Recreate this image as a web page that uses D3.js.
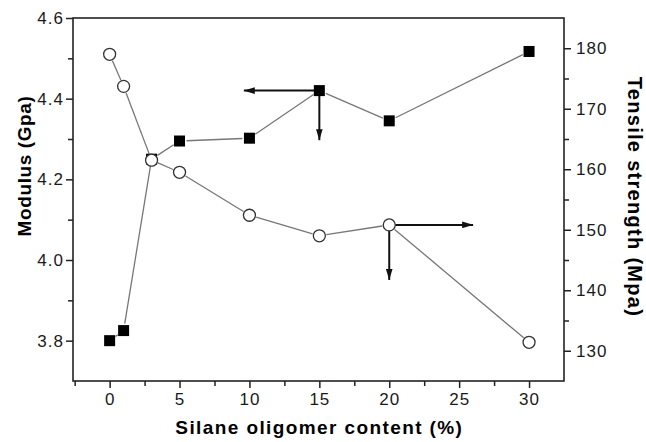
<!DOCTYPE html>
<html>
<head>
<meta charset="utf-8">
<script src="https://cdn.jsdelivr.net/npm/d3@7"></script>
<style>
  body { margin: 0; background: #fff; }
  svg text { font-family: "Liberation Sans", Arial, sans-serif; }
</style>
</head>
<body>
<div id="plot"></div>
<script>
const WIDTH = 646;
const HEIGHT = 442;

// data
const content = [0, 1, 3, 5, 10, 15, 20, 30];
const modulus = [3.80, 3.825, 4.25, 4.295, 4.302, 4.42, 4.345, 4.517];
const tensile = [179.0, 173.7, 161.5, 159.5, 152.4, 149.0, 150.8, 131.4];

const xTicks = [0, 5, 10, 15, 20, 25, 30];
const xMinor = [-2.5, 2.5, 7.5, 12.5, 17.5, 22.5, 27.5];
const leftTicks = [3.8, 4.0, 4.2, 4.4, 4.6];
const leftMinor = [3.9, 4.1, 4.3, 4.5];
const rightTicks = [130, 140, 150, 160, 170, 180];
const rightMinor = [135, 145, 155, 165, 175];

// arrows: [x0, y0, x1, y1] in data units of the series axis
const modulusArrows = [[15, 4.42, 9.6, 4.42], [15, 4.42, 15, 4.297]];
const tensileArrows = [[20, 150.8, 26.0, 150.8], [20, 150.8, 20, 141.7]];

const margin = {left: 73, right: 82, top: 18, bottom: 61};
const plotW = WIDTH - margin.left - margin.right;
const plotH = HEIGHT - margin.top - margin.bottom;

var svg = d3.select('#plot')
    .append('svg')
    .attr('width', WIDTH)
    .attr('height', HEIGHT);

svg.append('defs').append('marker')
    .attr('id', 'head')
    .attr('viewBox', '0 0 10 6')
    .attr('refX', 10)
    .attr('refY', 3)
    .attr('markerUnits', 'userSpaceOnUse')
    .attr('markerWidth', 11)
    .attr('markerHeight', 7)
    .attr('orient', 'auto')
    .append('path')
    .attr('d', 'M0,0 L10,3 L0,6 Z')
    .attr('fill', '#111');

var g = svg.append('g')
    .attr('transform', `translate(${margin.left},${margin.top})`);

var x = d3.scaleLinear().domain([-2.62, 32.5]).range([0, plotW]);
var yL = d3.scaleLinear().domain([3.7, 4.6]).range([plotH, 0]);
var yR = d3.scaleLinear().domain([125, 185]).range([plotH, 0]);

const AXIS_COLOR = '#222';

function styleAxis(sel) {
    sel.select('.domain').remove();
    sel.selectAll('line').attr('stroke', AXIS_COLOR).attr('stroke-width', 1.5);
    sel.selectAll('text')
        .attr('fill', '#1a1a1a')
        .style('font-size', '17px')
        .style('letter-spacing', '1px');
}

// minor ticks first
g.append('g')
    .attr('transform', `translate(0,${plotH})`)
    .call(d3.axisBottom(x).tickValues(xMinor).tickSize(5).tickFormat(''))
    .call(styleAxis);
g.append('g')
    .call(d3.axisLeft(yL).tickValues(leftMinor).tickSize(5).tickFormat(''))
    .call(styleAxis);
g.append('g')
    .attr('transform', `translate(${plotW},0)`)
    .call(d3.axisRight(yR).tickValues(rightMinor).tickSize(5).tickFormat(''))
    .call(styleAxis);

// major ticks
g.append('g')
    .attr('transform', `translate(0,${plotH})`)
    .call(d3.axisBottom(x).tickValues(xTicks).tickSize(7).tickPadding(5))
    .call(styleAxis);
g.append('g')
    .call(d3.axisLeft(yL).tickValues(leftTicks).tickSize(7).tickPadding(2)
        .tickFormat(d3.format('.1f')))
    .call(styleAxis);
g.append('g')
    .attr('transform', `translate(${plotW},0)`)
    .call(d3.axisRight(yR).tickValues(rightTicks).tickSize(7).tickPadding(5))
    .call(styleAxis);

// frame
g.append('rect')
    .attr('x', 0).attr('y', 0)
    .attr('width', plotW).attr('height', plotH)
    .attr('fill', 'none')
    .attr('stroke', AXIS_COLOR)
    .attr('stroke-width', 1.6);

// axis titles
svg.append('text')
    .attr('transform', 'translate(31,166) rotate(-90)')
    .attr('text-anchor', 'middle')
    .style('font-size', '19px')
    .style('font-weight', 'bold')
    .style('letter-spacing', '0.6px')
    .text('Modulus (Gpa)');

svg.append('text')
    .attr('transform', 'translate(628,197) rotate(90)')
    .attr('text-anchor', 'middle')
    .style('font-size', '20px')
    .style('font-weight', 'bold')
    .style('letter-spacing', '1.3px')
    .text('Tensile strength (Mpa)');

svg.append('text')
    .attr('x', margin.left + x(15))
    .attr('y', 434)
    .attr('text-anchor', 'middle')
    .style('font-size', '19px')
    .style('font-weight', 'bold')
    .style('letter-spacing', '1.4px')
    .text('Silane oligomer content (%)');

// connecting lines, stopped short of the symbols
function gappedSegments(xs, ys, yScale, gap) {
    let segs = [];
    for (let i = 0; i < xs.length - 1; i++) {
        let x0 = x(xs[i]), y0 = yScale(ys[i]);
        let x1 = x(xs[i + 1]), y1 = yScale(ys[i + 1]);
        let len = Math.hypot(x1 - x0, y1 - y0);
        if (len <= 2 * gap) continue;
        let ux = (x1 - x0) / len, uy = (y1 - y0) / len;
        segs.push([x0 + ux * gap, y0 + uy * gap, x1 - ux * gap, y1 - uy * gap]);
    }
    return segs;
}

function drawSegments(segs) {
    g.append('g')
        .selectAll('line')
        .data(segs)
        .enter()
        .append('line')
        .attr('x1', d => d[0]).attr('y1', d => d[1])
        .attr('x2', d => d[2]).attr('y2', d => d[3])
        .attr('stroke', '#777')
        .attr('stroke-width', 1.3);
}

drawSegments(gappedSegments(content, modulus, yL, 7));
drawSegments(gappedSegments(content, tensile, yR, 7));

// arrows
function drawArrows(arrows, yScale) {
    g.append('g')
        .selectAll('line')
        .data(arrows)
        .enter()
        .append('line')
        .attr('x1', d => x(d[0])).attr('y1', d => yScale(d[1]))
        .attr('x2', d => x(d[2])).attr('y2', d => yScale(d[3]))
        .attr('stroke', '#111')
        .attr('stroke-width', 2)
        .attr('marker-end', 'url(#head)');
}
drawArrows(modulusArrows, yL);
drawArrows(tensileArrows, yR);

// symbols
const SQ = 11;
g.append('g')
    .selectAll('rect')
    .data(content.map((c, i) => [c, modulus[i]]))
    .enter()
    .append('rect')
    .attr('x', d => x(d[0]) - SQ / 2)
    .attr('y', d => yL(d[1]) - SQ / 2)
    .attr('width', SQ)
    .attr('height', SQ)
    .attr('fill', '#000');

g.append('g')
    .selectAll('circle')
    .data(content.map((c, i) => [c, tensile[i]]))
    .enter()
    .append('circle')
    .attr('cx', d => x(d[0]))
    .attr('cy', d => yR(d[1]))
    .attr('r', 6)
    .attr('fill', '#fff')
    .attr('stroke', '#333')
    .attr('stroke-width', 1.3);
</script>
</body>
</html>
